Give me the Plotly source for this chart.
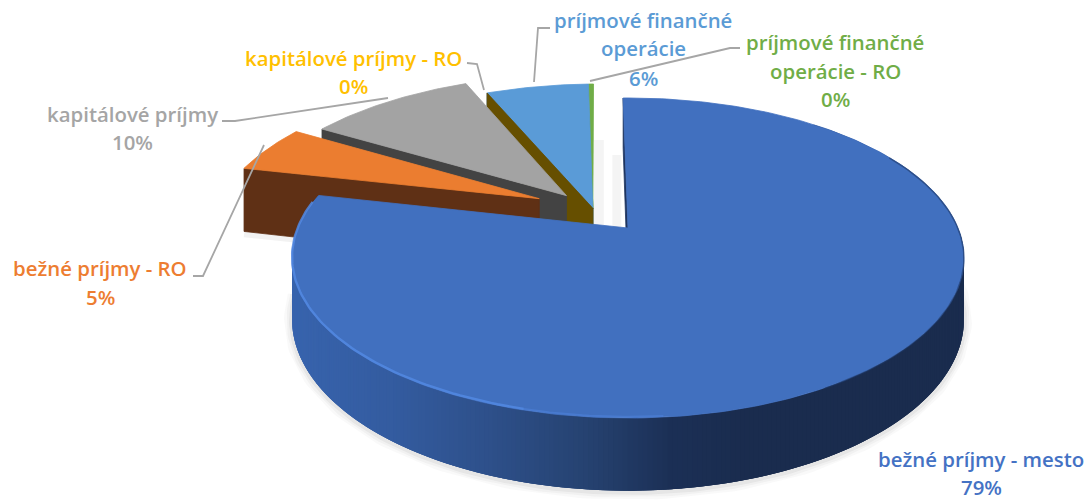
import math
import plotly.graph_objects as go

# ---- data ----
categories = ["bežné príjmy - mesto", "bežné príjmy - RO", "kapitálové príjmy",
              "kapitálové príjmy - RO", "príjmové finančné operácie", "príjmové finančné operácie - RO"]
values = [78.8, 5.0, 9.9, 0.0, 6.0, 0.3]

# ---- styles ----
top_colors = ["#4170BF", "#EB7D30", "#A3A3A3", "#FFC000", "#5A9BD7", "#70AD47"]
cut_colors = ["#1E3560", "#5F3015", "#434343", "#664F00", "#24517A", "#2F4F1F"]
text_colors = ["#4472C4", "#ED7D31", "#A5A5A5", "#FFC000", "#5B9BD5", "#70AD47"]
pull_x = [0, -92, -64, -36, -36, -36]
pull_y = [0, 65, 72, 43, 43, 43]
wall_h = [59, 68, 59, 59, 59, 59]
paint_order = [5, 4, 3, 2, 1, 0]
label_lines = [
    [("bežné príjmy - mesto", 981, 459), ("79%", 981, 487)],
    [("bežné príjmy - RO", 100, 268), ("5%", 100, 297)],
    [("kapitálové príjmy", 132, 114), ("10%", 132, 142)],
    [("kapitálové príjmy - RO", 353, 58), ("0%", 353, 86)],
    [("príjmové finančné", 643, 20), ("operácie", 643, 48), ("6%", 643, 78)],
    [("príjmové finančné", 835, 42), ("operácie - RO", 835, 71), ("0%", 835, 99)],
]
leaders = [
    ([222, 235, 388], [121, 121, 98]),
    ([193, 203, 264], [276, 276, 145]),
    ([467, 477, 484], [63, 64, 90]),
    ([550, 538, 534], [28, 28, 82]),
    ([740, 730, 590], [48, 48, 81]),
]
CX, CY, R, KR, P = 628, 228, 330, 154.4, 0.1875
START = -1.0


def proj(X, Y, drop=0.0):
    u = Y / R
    s = 1 / (1 + P * u)
    return CX + X * s, CY - KR * u * s + drop * s


def rim(theta, dx=0, dy=0, drop=0.0):
    t = math.radians(theta)
    return proj(R * math.sin(t) + dx, R * math.cos(t) + dy, drop)


def steps(a, b, n=None):
    n = n or max(2, int(abs(b - a) / 1.0) + 2)
    return [a + (b - a) * i / (n - 1) for i in range(n)]


def poly(fig, pts, color, lw=0.8):
    pts = list(pts)
    fig.add_trace(go.Scatter(
        x=[p[0] for p in pts] + [pts[0][0]], y=[p[1] for p in pts] + [pts[0][1]],
        mode="lines", fill="toself", fillcolor=color,
        line=dict(color=color, width=lw), hoverinfo="skip", showlegend=False))


def path(fig, pts, color, w):
    pts = list(pts)
    fig.add_trace(go.Scatter(x=[p[0] for p in pts], y=[p[1] for p in pts], mode="lines",
                             line=dict(color=color, width=w),
                             hoverinfo="skip", showlegend=False))


wall_stops = [(292, (56, 100, 174)), (400, (52, 92, 160)), (500, (46, 80, 138)),
              (600, (38, 66, 112)), (680, (28, 48, 86)), (760, (26, 44, 78)), (970, (26, 44, 78))]


def wall_color(x):
    for (x0, c0), (x1, c1) in zip(wall_stops, wall_stops[1:]):
        if x <= x1:
            f = max(0, (x - x0) / (x1 - x0))
            return "rgb(%d,%d,%d)" % tuple(c0[i] + (c1[i] - c0[i]) * f for i in range(3))
    return "rgb(26,44,78)"


fig = go.Figure()

total = sum(values)
spans = []
a = START
for v in values:
    spans.append((a, a + v / total * 360))
    a += v / total * 360

# soft shadows
a0, a1 = spans[0]
H0 = wall_h[0]
for w, al in [(16, 0.035), (11, 0.05), (6, 0.07)]:
    path(fig, [rim(t, 0, 0, H0 + 1) for t in steps(70, a1 - 15)], "rgba(90,90,90,%s)" % al, w)
ax = proj(pull_x[5], pull_y[5])[0]
for off, top, w in [(6, 140, 10), (24, 155, 9)]:
    path(fig, [(ax + off, top), (ax + off, CY)], "rgba(0,0,0,0.045)", w)
oa = spans[1][0]
path(fig, [proj(pull_x[1], pull_y[1], wall_h[1] + 1),
           rim(oa, pull_x[1], pull_y[1], wall_h[1] + 3)], "rgba(90,90,90,0.08)", 6)

for i in paint_order:
    a0, a1 = spans[i]
    dx, dy = pull_x[i], pull_y[i]
    h = wall_h[i]
    apex = proj(dx, dy)
    poly(fig, [apex, rim(a0, dx, dy), rim(a0, dx, dy, h), proj(dx, dy, h)], cut_colors[i])
    # outer rim wall, turned towards the viewer on the main slice only
    if dx == 0 and dy == 0:
        seq = steps(a1, 90, int((a1 - 90) / 0.7))
        for t0, t1 in zip(seq[1:], seq):
            c = wall_color(rim((t0 + t1) / 2)[0])
            t2 = min(t1 + 1.4, a1)
            poly(fig, [rim(t0), rim(t2), rim(t2, 0, 0, h), rim(t0, 0, 0, h)], c, lw=0)
        seq = steps(90, 40, 30)
        poly(fig, [rim(t) for t in seq] + [rim(t, 0, 0, h) for t in reversed(seq)], "rgb(26,44,78)", lw=0)
    # top face
    if values[i] > 0:
        poly(fig, [apex] + [rim(t, dx, dy) for t in steps(a0, a1)], top_colors[i])

# rim highlights on the main slice
a0, a1 = spans[0]
path(fig, [rim(t, 0, 0, -1) for t in steps(195, a1 - 3)], "rgba(82,136,226,0.85)", 2.4)
path(fig, [rim(t, 0, 0, -1) for t in steps(175, 195)], "rgba(82,136,226,0.45)", 2)
path(fig, [rim(t, 0, 0, 0.5) for t in steps(60, 150)], "rgba(30,55,100,0.55)", 1.5)

# leader lines
for lx, ly in leaders:
    path(fig, zip(lx, ly), "#A6A6A6", 1.8)

anns = []
for lines, col in zip(label_lines, text_colors):
    for txt, x, y in lines:
        anns.append(dict(x=x, y=y, text=txt, showarrow=False, xanchor="center", yanchor="middle",
                         font=dict(family="Open Sans", size=20.4, color=col, weight=600)))

fig.update_layout(
    width=1091, height=500, margin=dict(l=0, r=0, t=0, b=0), autosize=False,
    paper_bgcolor="white", plot_bgcolor="white", showlegend=False, annotations=anns,
    xaxis=dict(range=[0, 1091], visible=False, fixedrange=True),
    yaxis=dict(range=[500, 0], visible=False, fixedrange=True),
)
fig.write_html("out.html", config={"displayModeBar": False},
               post_script="document.body.style.margin='0';document.documentElement.style.overflow='hidden';")
